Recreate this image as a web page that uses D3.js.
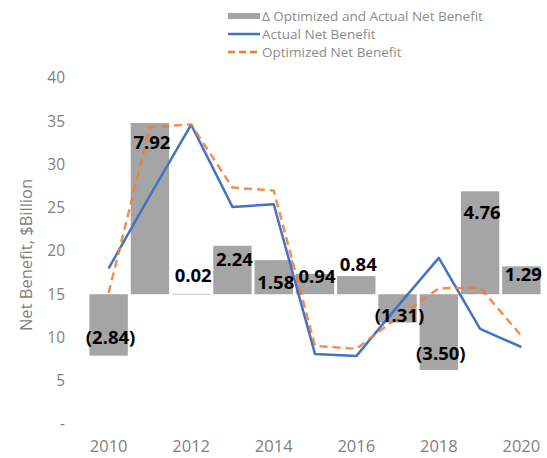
<!DOCTYPE html>
<html>
<head>
<meta charset="utf-8">
<script src="https://cdn.jsdelivr.net/npm/d3@7"></script>
<style>
  html, body { margin: 0; padding: 0; background: #fff; }
  svg { display: block; font-family: "Open Sans", "Liberation Sans", sans-serif; }
</style>
</head>
<body>
<svg id="chart" width="547" height="458"></svg>
<script>
// Net benefit by year, $Billion
const years = [2010, 2011, 2012, 2013, 2014, 2015, 2016, 2017, 2018, 2019, 2020];
const actualNetBenefit = [18.0, 26.4, 34.6, 25.1, 25.4, 8.1, 7.85, 13.6, 19.2, 11.0, 8.9];
const optimizedNetBenefit = [15.16, 34.32, 34.62, 27.34, 26.98, 9.04, 8.69, 12.29, 15.70, 15.76, 10.19];
const deltaNetBenefit = [-2.84, 7.92, 0.02, 2.24, 1.58, 0.94, 0.84, -1.31, -3.50, 4.76, 1.29];
const yTicks = [0, 5, 10, 15, 20, 25, 30, 35, 40];
const xTickYears = [2010, 2012, 2014, 2016, 2018, 2020];
const legendLabels = ["\u0394 Optimized and Actual Net Benefit", "Actual Net Benefit", "Optimized Net Benefit"];

// layout
const plotLeft = 88, plotRight = 542, plotTop = 78, plotBottom = 424;
const colors = { bar: "#a5a5a5", actual: "#4472c4", optimized: "#ed7d31", tick: "#7f7f7f", legend: "#8c8c8c", label: "#000" };
// vertical nudges (px) of each delta label relative to its bar end
const labelDy = [-18, 20, -18, 14, 22, 3, -12, -7, -16, 21, 8];

const svg = d3.select("#chart");

const x = d3.scaleBand().domain(years).range([plotLeft, plotRight])
  .paddingInner(0.07).paddingOuter(0.035);
const y = d3.scaleLinear().domain([0, 40]).range([plotBottom, plotTop]);
// secondary (hidden) axis for the delta bars, zero sits at 15 on the primary axis
const y2 = d3.scaleLinear().domain([-6, 10]).range([plotBottom, plotTop]);
const cx = d => x(d) + x.bandwidth() / 2;

// delta bars
const bars = years.map((yr, i) => ({ yr, v: deltaNetBenefit[i], i }));
svg.append("g").selectAll("rect").data(bars).join("rect")
  .attr("x", d => x(d.yr))
  .attr("width", x.bandwidth())
  .attr("y", d => Math.min(y2(d.v), y2(0)))
  .attr("height", d => Math.max(0.6, Math.abs(y2(d.v) - y2(0))))
  .attr("fill", colors.bar);

// lines
const line = d3.line().x(d => cx(d[0])).y(d => y(d[1]));
svg.append("path")
  .datum(years.map((yr, i) => [yr, actualNetBenefit[i]]))
  .attr("d", line).attr("fill", "none")
  .attr("stroke", colors.actual).attr("stroke-width", 2.5)
  .attr("stroke-linejoin", "round");
svg.append("path")
  .datum(years.map((yr, i) => [yr, optimizedNetBenefit[i]]))
  .attr("d", line).attr("fill", "none")
  .attr("stroke", colors.optimized).attr("stroke-width", 2.5)
  .attr("stroke-dasharray", "8,5").attr("opacity", 0.85);

// y axis
const yAxis = svg.append("g").attr("transform", `translate(${68},0)`)
  .call(d3.axisLeft(y).tickValues(yTicks).tickSize(0).tickPadding(3)
    .tickFormat(d => d === 0 ? "-" : d));
yAxis.select(".domain").remove();
yAxis.selectAll("text").attr("fill", colors.tick)
  .style("font-size", "15.5px").style("font-family", "'Open Sans', sans-serif");

// x axis
const xAxis = svg.append("g").attr("transform", `translate(0,${440})`)
  .call(d3.axisBottom(x).tickValues(xTickYears).tickSize(0).tickPadding(0));
xAxis.select(".domain").remove();
xAxis.selectAll("text").attr("fill", colors.tick)
  .style("font-size", "16.5px").style("font-family", "'Open Sans', sans-serif");

// y axis title
svg.append("text")
  .attr("transform", `translate(${32},${255}) rotate(-90)`)
  .attr("text-anchor", "middle")
  .attr("fill", colors.tick)
  .style("font-size", "16.5px")
  .text("Net Benefit, $Billion");

// delta labels
const fmt = d3.format(".2f");
svg.append("g").selectAll("text").data(bars).join("text")
  .attr("x", d => cx(d.yr) + 2)
  .attr("y", d => y2(d.v) + labelDy[d.i])
  .attr("dy", "0.35em")
  .attr("text-anchor", "middle")
  .attr("fill", colors.label)
  .style("font-size", "18.5px").style("font-weight", "bold")
  .text(d => d.v < 0 ? `(${fmt(-d.v)})` : fmt(d.v));

// legend
const legend = svg.append("g").attr("transform", "translate(228,16)");
const rowH = 18;
legendLabels.forEach((lab, i) => {
  const g = legend.append("g").attr("transform", `translate(0,${i * rowH})`);
  if (i === 0) {
    g.append("rect").attr("x", 0).attr("y", -3).attr("width", 32).attr("height", 6).attr("fill", colors.bar);
  } else {
    g.append("line").attr("x1", 0).attr("x2", 32).attr("y1", 0).attr("y2", 0)
      .attr("stroke", i === 1 ? colors.actual : colors.optimized)
      .attr("stroke-width", 2.5)
      .attr("stroke-dasharray", i === 2 ? "7,4" : null);
  }
  g.append("text").attr("x", 34).attr("y", 0).attr("dy", "0.35em")
    .attr("fill", colors.legend).style("font-size", "13.5px").text(lab);
});
</script>
</body>
</html>
